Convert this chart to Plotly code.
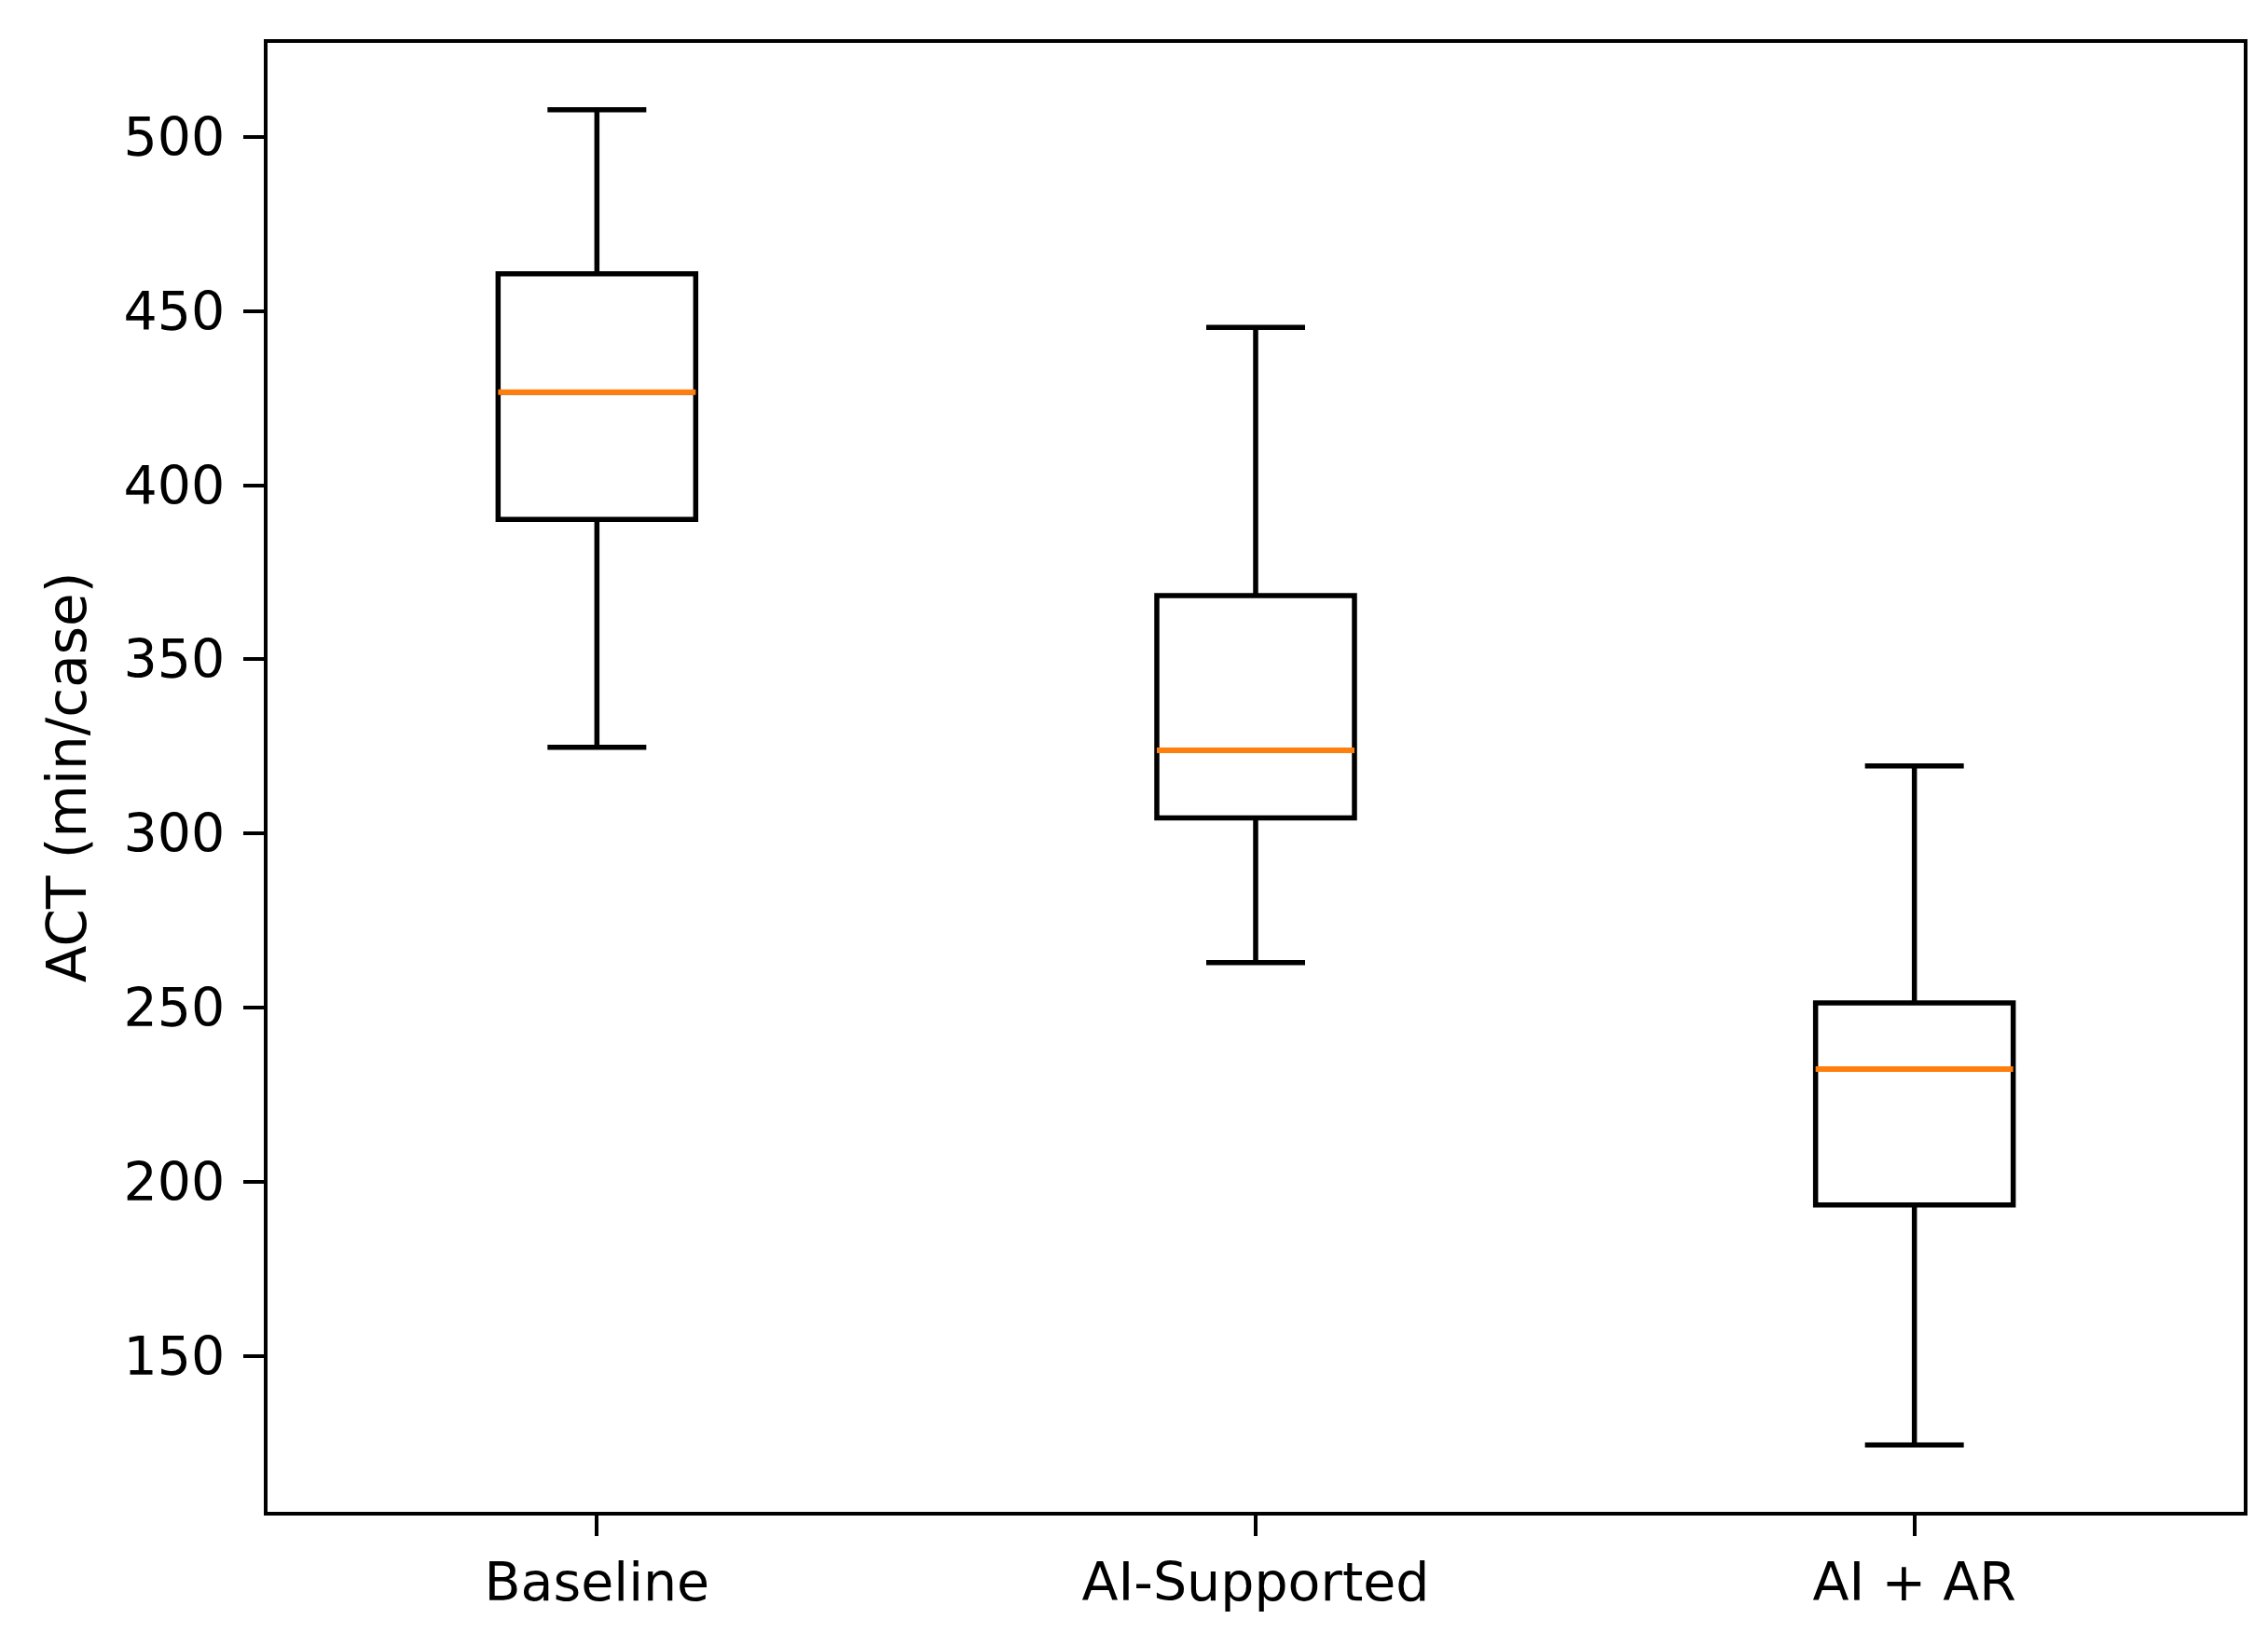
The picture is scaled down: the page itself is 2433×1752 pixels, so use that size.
import plotly.graph_objects as go

categories = ["Baseline", "AI-Supported", "AI + AR"]
positions = [1, 2, 3]
lower_whisker = [324.8, 263.0, 124.5]
q1 = [390.2, 304.5, 193.4]
median = [426.7, 323.9, 232.4]
q3 = [460.7, 368.3, 251.4]
upper_whisker = [507.8, 445.3, 319.4]
y_ticks = [150, 200, 250, 300, 350, 400, 450, 500]

BOX_W = 0.3
LW = 5.5
AX_LW = 4.4
FS = 57

fig = go.Figure()
for i, cat in enumerate(categories):
    fig.add_trace(go.Box(
        x=[positions[i]],
        q1=[q1[i]], median=[median[i]], q3=[q3[i]],
        lowerfence=[lower_whisker[i]], upperfence=[upper_whisker[i]],
        width=BOX_W, whiskerwidth=0.5,
        line=dict(color="black", width=LW),
        fillcolor="rgba(0,0,0,0)",
        boxpoints=False, hoverinfo="skip", name=cat, showlegend=False,
    ))
for i, cat in enumerate(categories):
    fig.add_trace(go.Scatter(
        x=[positions[i] - BOX_W / 2, positions[i] + BOX_W / 2],
        y=[median[i], median[i]],
        mode="lines", line=dict(color="#ff7f0e", width=LW + 0.5),
        showlegend=False, hoverinfo="skip",
    ))

lo = min(lower_whisker)
hi = max(upper_whisker)
pad = 0.05 * (hi - lo)

fig.update_layout(
    width=2433, height=1752,
    margin=dict(l=279, r=34, t=38, b=138),
    paper_bgcolor="white", plot_bgcolor="white",
    font=dict(family="DejaVu Sans", size=FS, color="black"),
    showlegend=False,
)
fig.update_xaxes(
    range=[0.5, 3.5], tickmode="array", tickvals=positions, ticktext=categories,
    showline=True, linecolor="black", linewidth=AX_LW, mirror=True,
    ticks="outside", ticklen=22, tickwidth=4, tickcolor="black",
    showgrid=False, zeroline=False, tickfont=dict(size=FS, color="black"),
)
fig.update_yaxes(
    range=[lo - pad, hi + pad], tickmode="array", tickvals=y_ticks,
    showline=True, linecolor="black", linewidth=AX_LW, mirror=True,
    ticks="outside", ticklen=22, tickwidth=4, tickcolor="black",
    ticklabelstandoff=8,
    showgrid=False, zeroline=False, tickfont=dict(size=FS, color="black"),
    title=dict(text="ACT (min/case)", font=dict(size=58, color="black"), standoff=22),
)

fig.write_html("out.html")
